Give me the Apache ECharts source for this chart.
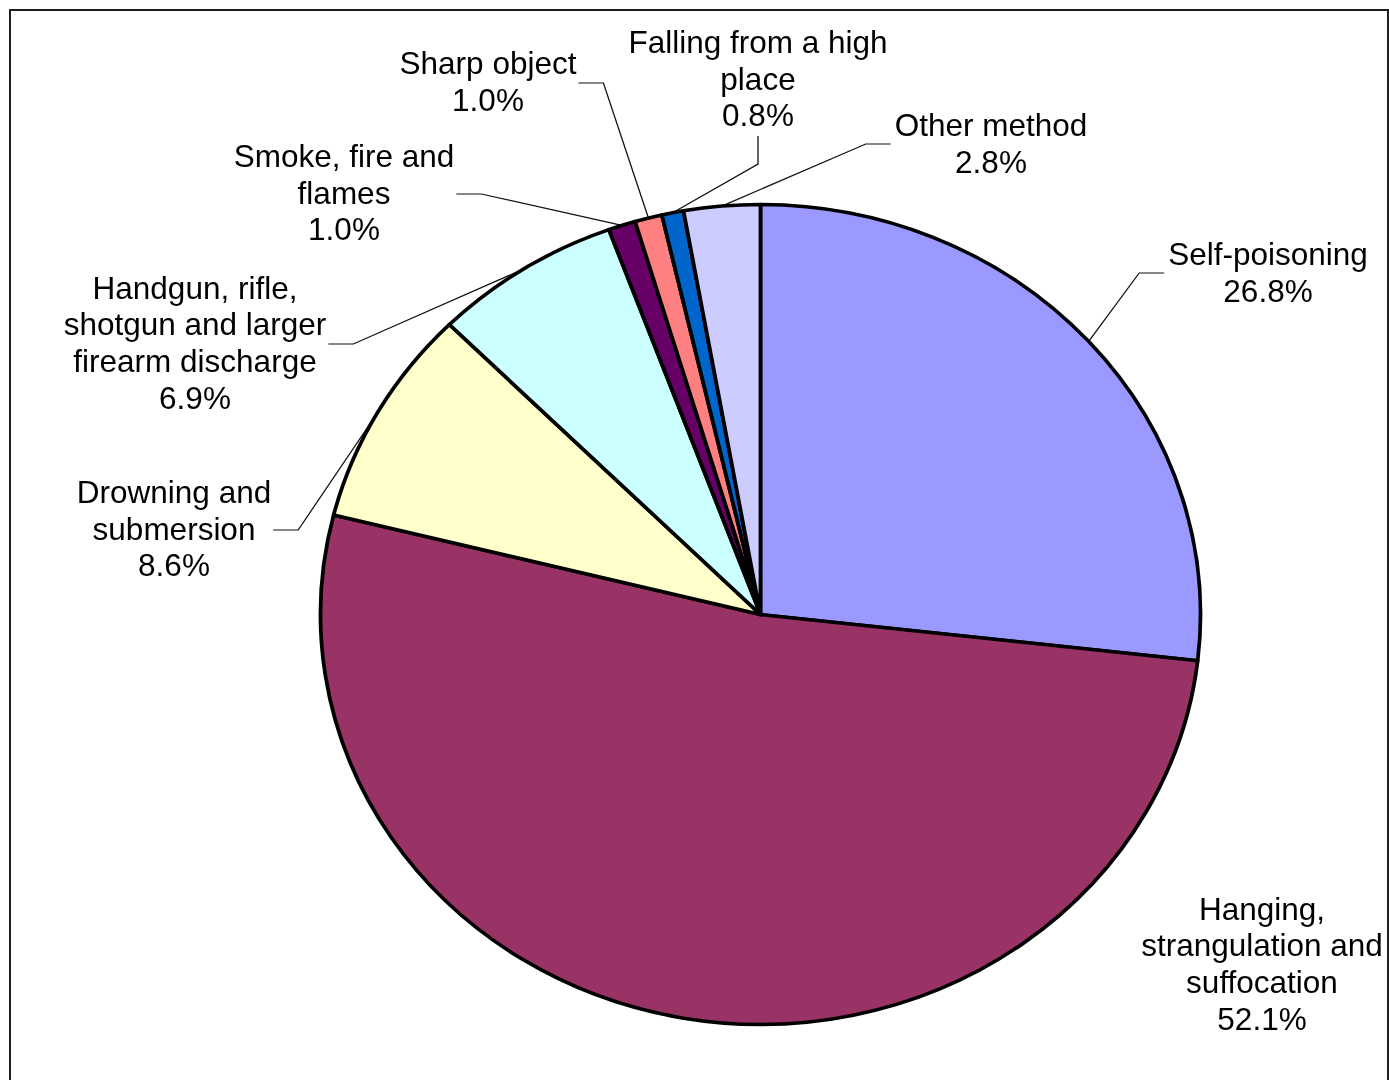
<!DOCTYPE html>
<html><head><meta charset="utf-8">
<script src="https://cdn.jsdelivr.net/npm/echarts@6/dist/echarts.min.js"></script>
<style>
html,body{margin:0;padding:0;background:#fff;}
#wrap{position:relative;width:1389px;height:1080px;overflow:hidden;background:#fff;}
#pie{position:absolute;left:0;top:0;width:1389px;height:1080px;transform-origin:760.5px 614.5px;transform:scaleX(1.07317);}
#txt{position:absolute;left:0;top:0;width:1389px;height:1080px;}
#frame{position:absolute;left:9px;top:9px;width:1380px;height:1100px;border:2px solid #1e1e1e;box-sizing:border-box;}
</style></head>
<body><div id="wrap"><div id="frame"></div><div id="pie"></div><div id="txt"></div></div>
<script>
// ---- data ----
const categories = ['Self-poisoning','Hanging, strangulation and suffocation','Drowning and submersion','Handgun, rifle, shotgun and larger firearm discharge','Smoke, fire and flames','Sharp object','Falling from a high place','Other method'];
const labelText = ['Self-poisoning','Hanging,\nstrangulation and\nsuffocation','Drowning and\nsubmersion','Handgun, rifle,\nshotgun and larger\nfirearm discharge','Smoke, fire and\nflames','Sharp object','Falling from a high\nplace','Other method'];
const values = [26.8, 52.1, 8.6, 6.9, 1.0, 1.0, 0.8, 2.8];
const colors = ['#9999FF','#993366','#FFFFCC','#CCFFFF','#660066','#FF8080','#0066CC','#CCCCFF'];
const showLeader = [true, false, true, true, true, true, true, true];

// ---- layout (label block centres, screen px) ----
const labelCenters = [[1268,275],[1262,966],[174,531],[195,345],[344,195],[488,84],[758,81],[991,146]];
const CX = 760.5, CY = 614.5, RY = 410, SX = 440 / 410;
const FONT = {fontFamily:'"Liberation Sans", Arial, sans-serif', fontSize:31.5, lineHeight:36.7};

const toLocal = x => CX + (x - CX) / SX;
const toScreen = x => CX + (x - CX) * SX;

function buildData(forPie){
  return categories.map((c,i)=>({
    name:c, value:values[i],
    itemStyle: forPie ? {color:colors[i]} : {color:'rgba(0,0,0,0)', borderWidth:0},
    labelLine:{show: forPie && showLeader[i]}
  }));
}
const fmt = p => labelText[p.dataIndex] + '\n' + values[p.dataIndex].toFixed(1) + '%';

// chart A: stretched pie + leader lines
const chartA = echarts.init(document.getElementById('pie'), null, {renderer:'svg'});
chartA.setOption({
  animation:false,
  series:[{
    type:'pie', center:[CX, CY], radius:RY, startAngle:90, clockwise:true,
    avoidLabelOverlap:false, silent:true,
    itemStyle:{borderColor:'#000', borderWidth:3.5, borderJoin:'round'},
    label:Object.assign({show:true, position:'outside', color:'rgba(0,0,0,0)', formatter:fmt}, FONT),
    labelLine:{show:true, length:10, length2:25, lineStyle:{color:'#111', width:1.2}},
    labelLayout:function(params){
      const i = params.dataIndex;
      const X = labelCenters[i][0], Y = labelCenters[i][1];
      const out = {x: toLocal(X), y: Y, align:'center', verticalAlign:'middle'};
      if (showLeader[i] && params.labelLinePoints){
        const w = params.labelRect.width, h = params.labelRect.height;
        const p0 = params.labelLinePoints[0];
        const p0x = toScreen(p0[0]);
        let end, bend;
        if (X - w/2 > p0x){ end=[X - w/2 - 4, Y - 2]; bend=[end[0]-25, end[1]]; }
        else if (X + w/2 < p0x){ end=[X + w/2 + 2, Y - 1]; bend=[end[0]+25, end[1]]; }
        else { end=[X, Y + h/2]; bend=[X, end[1]+28]; }
        out.labelLinePoints = [[p0[0],p0[1]],[toLocal(bend[0]),bend[1]],[toLocal(end[0]),end[1]]];
      }
      return out;
    },
    emphasis:{disabled:true},
    data:buildData(true)
  }]
});

// chart B: unstretched text labels
const chartB = echarts.init(document.getElementById('txt'));
chartB.setOption({
  animation:false,
  series:[{
    type:'pie', center:[CX, CY], radius:RY, startAngle:90, clockwise:true,
    avoidLabelOverlap:false, silent:true,
    label:Object.assign({show:true, position:'outside', color:'#000', formatter:fmt}, FONT),
    labelLine:{show:false},
    labelLayout:function(params){
      const i = params.dataIndex;
      return {x: labelCenters[i][0], y: labelCenters[i][1], align:'center', verticalAlign:'middle'};
    },
    emphasis:{disabled:true},
    data:buildData(false)
  }]
});
</script>
</body></html>
